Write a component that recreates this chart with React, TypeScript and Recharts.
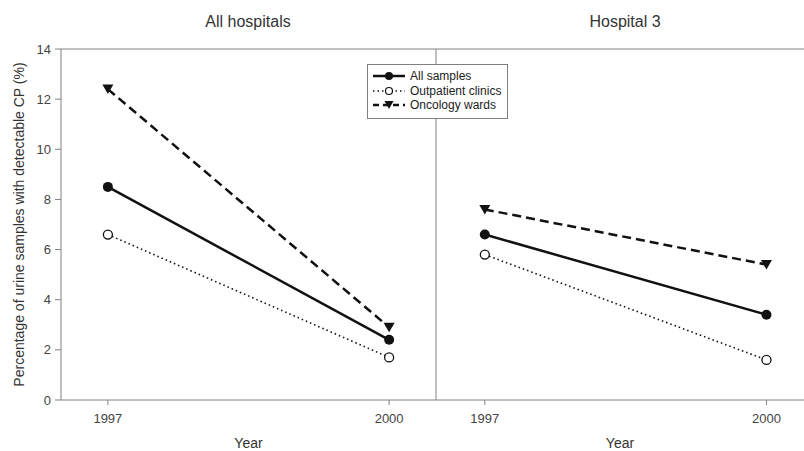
import { LineChart, Line, XAxis, YAxis, ReferenceLine } from "recharts";

const years = [1997, 2000];
const allHospSamples = [8.5, 2.4];
const allHospOutpatient = [6.6, 1.7];
const allHospOncology = [12.4, 2.9];
const hosp3Samples = [6.6, 3.4];
const hosp3Outpatient = [5.8, 1.6];
const hosp3Oncology = [7.6, 5.4];
const yTicks = [0, 2, 4, 6, 8, 10, 12, 14];
const seriesNames = ["All samples", "Outpatient clinics", "Oncology wards"];

const FONT = "'Liberation Sans', Arial, sans-serif";
const AXIS = "#808080";
const INK = "#111";

const toRows = (a: number[], b: number[], c: number[]) =>
  years.map((year, i) => ({ year, all: a[i], out: b[i], onc: c[i] }));

const leftData = toRows(allHospSamples, allHospOutpatient, allHospOncology);
const rightData = toRows(hosp3Samples, hosp3Outpatient, hosp3Oncology);

const FilledDot = (p: any) => <circle key={p.index} cx={p.cx} cy={p.cy} r={5} fill={INK} stroke="none" />;
const OpenDot = (p: any) => (
  <circle key={p.index} cx={p.cx} cy={p.cy} r={4.5} fill="#fff" stroke={INK} strokeWidth={1.3} />
);
const TriDot = (p: any) => (
  <path
    key={p.index}
    d={`M${p.cx - 5.5},${p.cy - 4.5} L${p.cx + 5.5},${p.cy - 4.5} L${p.cx},${p.cy + 5} Z`}
    fill={INK}
  />
);

function Series() {
  return [
    <Line key="onc" dataKey="onc" stroke={INK} strokeWidth={2.5} strokeDasharray="9 5" dot={TriDot} isAnimationActive={false} />,
    <Line key="all" dataKey="all" stroke={INK} strokeWidth={2.5} dot={FilledDot} isAnimationActive={false} />,
    <Line key="out" dataKey="out" stroke={INK} strokeWidth={1.6} strokeDasharray="1.5 3" dot={OpenDot} isAnimationActive={false} />,
  ];
}

const tickStyle = { fontSize: 13, fill: "#444", fontFamily: FONT };
const labelStyle = { fontSize: 14, fill: "#333", fontFamily: FONT };

function LegendBox() {
  const rows = [
    { name: seriesNames[0], dash: undefined, w: 2.5, mark: <circle cx={16} cy={6} r={4} fill={INK} /> },
    { name: seriesNames[1], dash: "1.5 3", w: 1.5, mark: <circle cx={16} cy={6} r={3.5} fill="#fff" stroke={INK} strokeWidth={1.2} /> },
    { name: seriesNames[2], dash: "6 4", w: 2.5, mark: <path d="M11.5,2 L20.5,2 L16,10 Z" fill={INK} /> },
  ];
  return (
    <div
      style={{
        position: "absolute",
        left: 367,
        top: 64,
        width: 141,
        height: 55,
        background: "#fff",
        border: `1px solid ${AXIS}`,
        boxSizing: "border-box",
        paddingTop: 4,
        fontFamily: FONT,
        fontSize: 12,
        color: "#222",
      }}
    >
      {rows.map((r) => (
        <div key={r.name} style={{ display: "flex", alignItems: "center", height: 14.5, paddingLeft: 5 }}>
          <svg width={32} height={12} style={{ marginRight: 5, flexShrink: 0 }}>
            <line x1={0} y1={6} x2={32} y2={6} stroke={INK} strokeWidth={r.w} strokeDasharray={r.dash} />
            {r.mark}
          </svg>
          <span style={{ whiteSpace: "nowrap" }}>{r.name}</span>
        </div>
      ))}
    </div>
  );
}

const titleStyle = {
  position: "absolute" as const,
  top: 12.5,
  transform: "translateX(-50%)",
  fontFamily: FONT,
  fontSize: 16,
  color: "#333",
  whiteSpace: "nowrap" as const,
};

export default function App() {
  return (
    <div style={{ position: "absolute", left: 0, top: 0, width: 804, height: 451, background: "#fff", overflow: "hidden" }}>
      <div style={{ ...titleStyle, left: 248 }}>All hospitals</div>
      <div style={{ ...titleStyle, left: 625 }}>Hospital 3</div>

      <div style={{ position: "absolute", left: 0, top: 0 }}>
        <LineChart width={437} height={451} data={leftData} margin={{ top: 49, right: 1, bottom: 0, left: 0 }}>
          <XAxis
            dataKey="year"
            type="number"
            domain={[1996.5, 2000.5]}
            ticks={years}
            allowDataOverflow
            stroke={AXIS}
            tickSize={5}
            tickMargin={9}
            height={51}
            tick={tickStyle}
            label={{ value: "Year", position: "insideBottom", offset: 3, style: labelStyle }}
          />
          <YAxis
            domain={[0, 14]}
            ticks={yTicks}
            width={61}
            stroke={AXIS}
            tickSize={6}
            tickMargin={4}
            tick={tickStyle}
            label={{
              value: "Percentage of urine samples with detectable CP (%)",
              angle: -90,
              position: "insideLeft",
              offset: 19,
              style: { ...labelStyle, textAnchor: "middle" },
            }}
          />
          <ReferenceLine y={14} stroke={AXIS} />
          <ReferenceLine x={2000.5} stroke={AXIS} />
          {Series()}
        </LineChart>
      </div>

      <div style={{ position: "absolute", left: 436, top: 0 }}>
        <LineChart width={368} height={451} data={rightData} margin={{ top: 49, right: 0, bottom: 0, left: 0 }}>
          <XAxis
            dataKey="year"
            type="number"
            domain={[1996.48, 2000.4]}
            ticks={years}
            allowDataOverflow
            stroke={AXIS}
            tickSize={5}
            tickMargin={9}
            height={51}
            tick={tickStyle}
            label={{ value: "Year", position: "insideBottom", offset: 3, style: labelStyle }}
          />
          <YAxis hide domain={[0, 14]} />
          <ReferenceLine y={14} stroke={AXIS} />
          {Series()}
        </LineChart>
      </div>

      <LegendBox />
    </div>
  );
}
